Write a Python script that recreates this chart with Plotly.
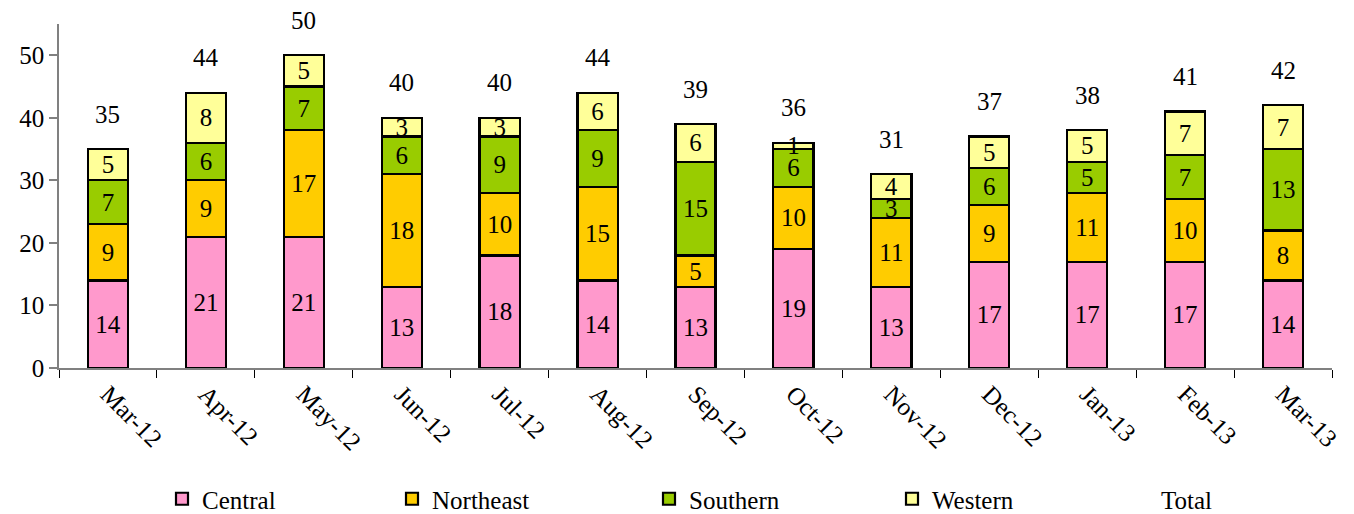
import plotly.graph_objects as go

months = ["Mar-12", "Apr-12", "May-12", "Jun-12", "Jul-12", "Aug-12", "Sep-12",
          "Oct-12", "Nov-12", "Dec-12", "Jan-13", "Feb-13", "Mar-13"]
central = [14, 21, 21, 13, 18, 14, 13, 19, 13, 17, 17, 17, 14]
northeast = [9, 9, 17, 18, 10, 15, 5, 10, 11, 9, 11, 10, 8]
southern = [7, 6, 7, 6, 9, 9, 15, 6, 3, 6, 5, 7, 13]
western = [5, 8, 5, 3, 3, 6, 6, 1, 4, 5, 5, 7, 7]
totals = [35, 44, 50, 40, 40, 44, 39, 36, 31, 37, 38, 41, 42]

FONT = "Liberation Serif"
FS = 25
series = [
    ("Central", central, "#FF99CC", 185),
    ("Northeast", northeast, "#FFCC00", 212),
    ("Southern", southern, "#99CC00", 198),
    ("Western", western, "#FFFF99", 184),
]

fig = go.Figure()
for name, vals, color, lw in series:
    fig.add_trace(go.Bar(
        name=name, x=months, y=vals,
        marker=dict(color=color, line=dict(color="black", width=2.2)),
        text=[str(v) for v in vals],
        textposition="inside", insidetextanchor="middle",
        constraintext="none", textangle=0,
        textfont=dict(family=FONT, size=FS, color="black"),
        legendwidth=lw,
        hoverinfo="skip",
    ))

fig.add_trace(go.Scatter(
    name="Total", x=months, y=totals, mode="lines",
    line=dict(color="rgba(0,0,0,0)", width=0),
    hoverinfo="skip",
))

for m, t in zip(months, totals):
    fig.add_annotation(x=m, y=t, text=str(t), showarrow=False,
                       yanchor="middle", yshift=35,
                       font=dict(family=FONT, size=FS, color="black"))

W, H = 1346, 506
fig.update_layout(
    width=W, height=H,
    barmode="stack", bargap=0.59,
    plot_bgcolor="white", paper_bgcolor="white",
    margin=dict(l=51, r=22, t=16, b=146),
    font=dict(family=FONT, size=FS, color="black"),
    legend=dict(orientation="h", xref="container", yref="container",
                x=154 / W, xanchor="left", y=(H - 491) / H, yanchor="middle",
                traceorder="normal",
                font=dict(family=FONT, size=FS, color="black"),
                entrywidthmode="pixels"),
    xaxis=dict(type="category", range=[-0.5, 12.5], showline=True,
               linecolor="#808080", linewidth=1.5, ticks="outside",
               tickson="boundaries", ticklen=8, tickcolor="black",
               tickwidth=1, tickangle=45, showgrid=False,
               tickfont=dict(family=FONT, size=FS, color="black")),
    yaxis=dict(range=[0, 55], tickvals=[0, 10, 20, 30, 40, 50],
               showline=True, linecolor="#808080", linewidth=1.5,
               ticks="outside", ticklen=8, tickcolor="#808080", tickwidth=1.5,
               showgrid=False, zeroline=False,
               tickfont=dict(family=FONT, size=FS, color="black")),
)

fig.write_html("out.html")
